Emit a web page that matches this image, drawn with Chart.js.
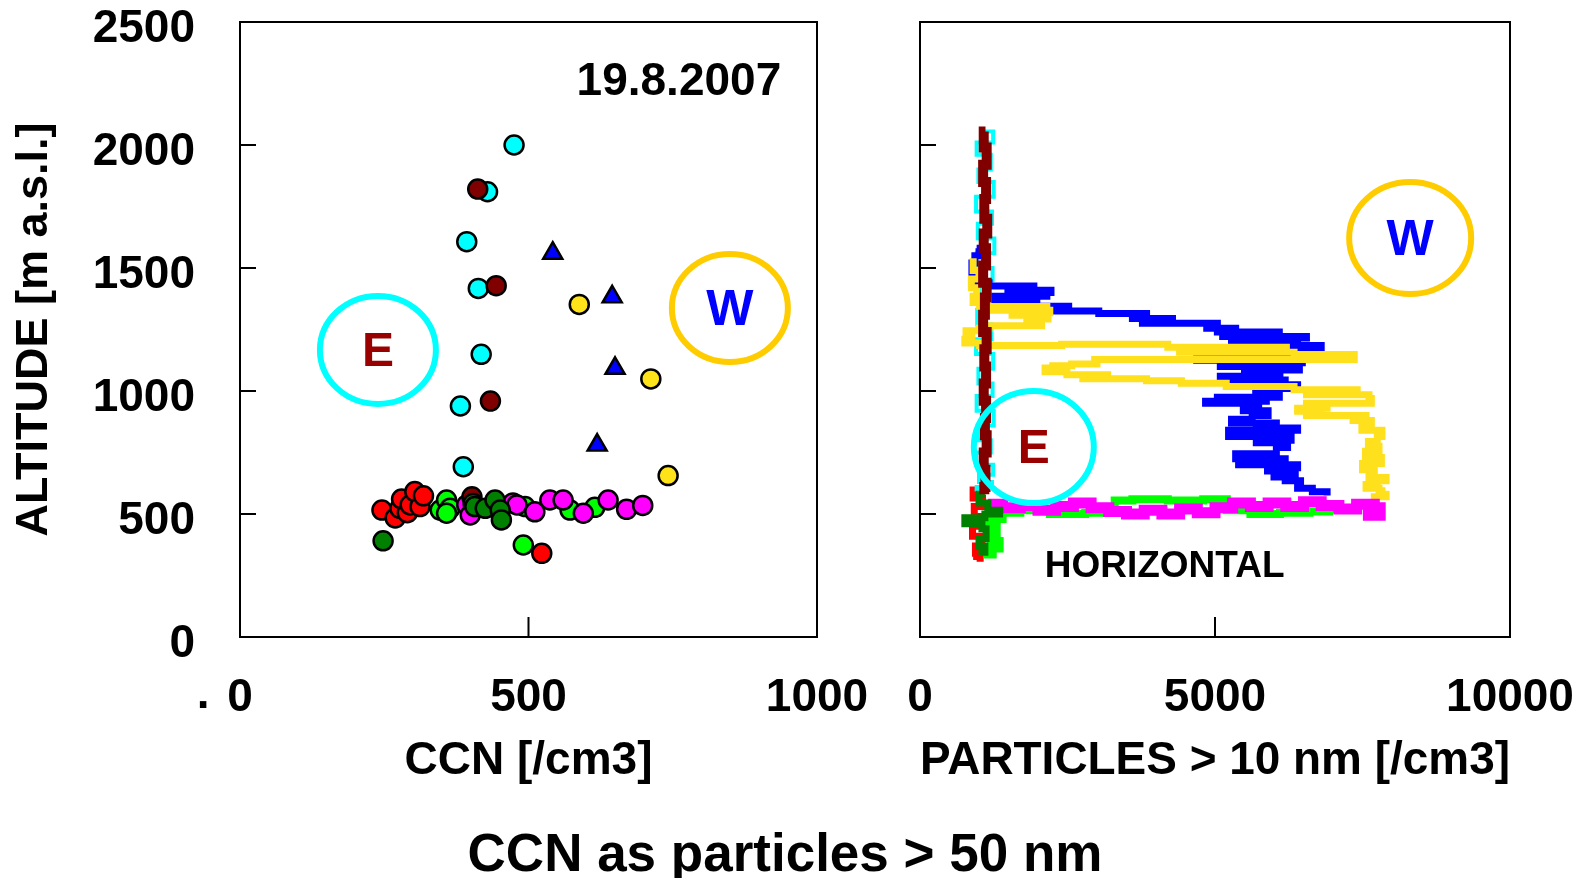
<!DOCTYPE html>
<html>
<head>
<meta charset="utf-8">
<script src="https://cdn.jsdelivr.net/npm/chart.js@4.4.1/dist/chart.umd.min.js"></script>
<style>
  body { margin: 0; background: #fff; }
  #wrap { position: relative; width: 1581px; height: 878px; }
  #wrap canvas { position: absolute; left: 0; top: 0; }
  #caption {
    position: absolute; left: 0; top: 822px; width: 1570px; line-height: 70px;
    text-align: center; font: bold 53px "Liberation Sans", Arial, sans-serif; color: #000;
  }
</style>
</head>
<body>
<div id="wrap">
  <canvas id="ccnChart" width="1581" height="878"></canvas>
  <canvas id="profileChart" width="1581" height="878"></canvas>
  <div id="caption">CCN as particles &gt; 50 nm</div>
</div>
<script>
// ---------------- Axis ticks ----------------
const altTicks = [0, 500, 1000, 1500, 2000, 2500];
const ccnTicks = [0, 500, 1000];
const partTicks = [0, 5000, 10000];

// ---------------- Left panel: CCN samples ----------------
const cyanCcn = [475, 429, 393, 413, 418, 382, 387];
const cyanAlt = [2000, 1810, 1607, 1417, 1149, 939, 692];
const darkRedCcn = [412, 444, 434, 402];
const darkRedAlt = [1821, 1428, 959, 570];
const blueCcn = [542, 645, 650, 619];
const blueAlt = [1560, 1383, 1092, 780];
const yellowCcn = [588, 712, 742];
const yellowAlt = [1352, 1049, 656];
const redCcn = [246, 269, 277, 280, 290, 295, 303, 312, 318, 523];
const redAlt = [516, 484, 523, 561, 505, 537, 591, 530, 574, 340];
const limeCcn = [347, 358, 364, 358, 494, 491, 572, 615];
const limeAlt = [516, 557, 523, 503, 530, 374, 516, 527];
const darkGreenCcn = [248, 404, 407, 425, 442, 451, 453];
const darkGreenAlt = [391, 543, 530, 523, 557, 516, 476];
const magentaCcn = [393, 399, 473, 480, 511, 537, 560, 595, 638, 670, 698];
const magentaAlt = [537, 496, 545, 537, 509, 557, 557, 503, 557, 519, 535];

// ---------------- Right panel: particle profiles ----------------
const pDarkRedN = [1110, 1080, 1130, 1070, 1120, 1090, 1140, 1080, 1120, 1070, 1130, 1100, 1070, 1130, 1090, 1120, 1080, 1120, 1100, 1130, 1080, 1110, 1090];
const pDarkRedAlt = [2055, 1990, 1920, 1850, 1780, 1700, 1640, 1580, 1510, 1440, 1380, 1310, 1240, 1170, 1100, 1030, 960, 890, 820, 750, 680, 610, 580];
const pCyanN = [1000, 1240, 960, 1200, 990, 1250, 950, 1220, 980, 1260, 960, 1230, 1000, 1250, 970, 1210, 950, 1240, 990, 1230, 960, 1250, 980, 1200, 950, 1240, 1000, 1220, 960, 1100];
const pCyanAlt = [2055, 2010, 1960, 1900, 1850, 1790, 1730, 1680, 1620, 1560, 1500, 1450, 1390, 1330, 1270, 1210, 1150, 1090, 1030, 980, 920, 860, 800, 750, 700, 660, 630, 610, 600, 590];
const pBlueN = [960, 1000, 930, 880, 950, 1170, 1930, 1490, 2220, 2150, 1270, 1980, 1570, 2520, 2200, 3030, 3840, 3600, 4280, 3770,
  5040, 4860, 5350, 5040, 6090, 5130, 6550, 5280, 6400, 6190, 6800, 6300, 6500, 4690, 6480, 5090, 6430, 5500, 6100, 5090,
  6190, 5530, 6400, 5690, 6090, 5040, 5870, 4840, 5740, 5480, 5900, 5630, 5280, 6040, 5700, 6400, 5230, 6290, 5700, 6230,
  6040, 5350, 6190, 5400, 6400, 5890, 6360, 6000, 6190, 6450, 6400, 6650, 6900];
const pBlueAlt = [1580, 1550, 1520, 1480, 1440, 1427, 1420, 1410, 1400, 1385, 1370, 1355, 1345, 1335, 1325, 1315, 1305, 1295, 1285, 1275,
  1262, 1255, 1248, 1240, 1230, 1222, 1215, 1205, 1197, 1185, 1170, 1155, 1140, 1125, 1115, 1100, 1085, 1075, 1060, 1045,
  1035, 1025, 1010, 990, 975, 965, 958, 950, 935, 920, 900, 885, 870, 860, 850, 840, 815, 800, 790, 770,
  745, 725, 712, 700, 688, 675, 660, 650, 635, 620, 605, 590, 575];
const pYellowN = [960, 900, 1000, 870, 960, 900, 1010, 2150, 1170, 2200, 1560, 2170, 1810, 2060, 1170, 1000, 780, 880, 760, 1010,
  2400, 4200, 6210, 4400, 6340, 7360, 2960, 3000, 2570, 2250, 2120, 2490, 3180, 2760, 3840, 4430, 5190, 6340, 7410, 6550,
  7610, 7650, 6550, 6900, 6400, 6800, 6550, 7560, 7340, 7650, 7490, 7830, 7750, 7600, 7780, 7550, 7820, 7500, 7700, 7610,
  7900, 7750, 7560, 7780, 7830, 7900, 7700];
const pYellowAlt = [1525, 1490, 1455, 1420, 1385, 1360, 1343, 1336, 1328, 1318, 1308, 1293, 1280, 1265, 1255, 1245, 1230, 1210, 1195, 1185,
  1190, 1178, 1168, 1158, 1148, 1128, 1118, 1110, 1103, 1093, 1078, 1066, 1058, 1050, 1042, 1032, 1018, 1005, 995, 985,
  970, 950, 938, 930, 918, 910, 900, 895, 880, 860, 840, 815, 795, 775, 755, 730, 705, 680, 665, 648,
  635, 620, 605, 595, 580, 570, 560];
const pMagentaN = [1150, 1400, 1700, 2000, 2300, 2600, 2900, 3200, 3500, 3800, 4100, 4400, 4700, 5000, 5300, 5600, 5900, 6200, 6500, 6800, 7100, 7400, 7700, 7800, 7600, 7800];
const pMagentaAlt = [540, 525, 535, 515, 530, 545, 525, 510, 500, 515, 500, 520, 505, 525, 545, 530, 545, 530, 550, 535, 520, 540, 525, 505, 495, 510];
const pLimeN = [1300, 1150, 1350, 1200, 1300, 1150, 1400, 1700, 2200, 2800, 3300, 3600, 4200, 4800, 5200, 5600, 6100, 6600, 7000];
const pLimeAlt = [335, 360, 390, 420, 450, 480, 505, 515, 500, 505, 555, 560, 555, 560, 515, 500, 505, 510, 505];
const pRedN = [1000, 900, 1060, 920, 1010, 890, 1050, 940, 1020, 960];
const pRedAlt = [598, 565, 530, 490, 450, 410, 370, 340, 320, 313];
const pDarkGreenN = [1100, 1000, 1150, 1350, 1100, 760, 1050, 1120, 1000, 1100, 1050];
const pDarkGreenAlt = [580, 545, 515, 500, 485, 460, 440, 400, 370, 345, 333];

const FONT = '"Liberation Sans", Arial, sans-serif';
Chart.defaults.font.family = FONT;
Chart.defaults.color = '#000';

const pts = (xs, ys) => xs.map((x, i) => ({ x, y: ys[i] }));

// ---------------- Frame, inner ticks, rings and notes ----------------
function makeDecor(rings, notes) {
  return {
    id: 'decor',
    afterDatasetsDraw(chart) {
      const { ctx, scales: { x, y } } = chart;
      ctx.save();
      rings.forEach(r => {
        const cx = x.getPixelForValue(r.x), cy = y.getPixelForValue(r.y);
        ctx.beginPath();
        ctx.ellipse(cx, cy, r.rx, r.ry, 0, 0, Math.PI * 2);
        ctx.lineWidth = 6;
        ctx.strokeStyle = r.ring;
        ctx.stroke();
        ctx.font = 'bold ' + r.size + 'px ' + FONT;
        ctx.fillStyle = r.color;
        ctx.textAlign = 'center';
        ctx.textBaseline = 'middle';
        ctx.fillText(r.label, cx, cy + 3);
      });
      ctx.restore();
    },
    afterDraw(chart) {
      const { ctx, chartArea: a, scales: { x, y } } = chart;
      ctx.save();
      ctx.strokeStyle = '#000';
      ctx.lineWidth = 2;
      ctx.strokeRect(a.left, a.top, a.right - a.left, a.bottom - a.top);
      ctx.beginPath();
      y.ticks.forEach(t => {
        if (t.value <= y.min || t.value >= y.max) return;
        const py = y.getPixelForValue(t.value);
        ctx.moveTo(a.left, py);
        ctx.lineTo(a.left + 16, py);
      });
      x.ticks.forEach(t => {
        if (t.value <= x.min || t.value >= x.max) return;
        const px = x.getPixelForValue(t.value);
        ctx.moveTo(px, a.bottom);
        ctx.lineTo(px, a.bottom - 20);
      });
      ctx.stroke();
      notes.forEach(n => {
        ctx.font = 'bold ' + n.size + 'px ' + FONT;
        ctx.fillStyle = '#000';
        ctx.textAlign = n.align;
        ctx.textBaseline = n.baseline || 'middle';
        ctx.fillText(n.text, x.getPixelForValue(n.x), y.getPixelForValue(n.y));
      });
      ctx.restore();
    }
  };
}

function fixX(height) {
  return s => { s.height = height; s.paddingLeft = 0; s.paddingRight = 0; };
}
function fixY(width) {
  return s => { s.width = width; s.paddingTop = 0; s.paddingBottom = 0; };
}

const tickFont = { size: 46, weight: 'bold' };
const plain = v => String(v);

// ---------------- Left chart ----------------
const dots = (label, xs, ys, color, style, r) => ({
  label, data: pts(xs, ys), backgroundColor: color, borderColor: '#000', borderWidth: 2.5,
  pointStyle: style || 'circle', pointRadius: r || 9.5, pointHoverRadius: r || 9.5
});

new Chart(document.getElementById('ccnChart'), {
  type: 'scatter',
  data: {
    datasets: [
      dots('dark green', darkGreenCcn, darkGreenAlt, '#007F00'),
      dots('dark red', darkRedCcn, darkRedAlt, '#800000'),
      dots('magenta', magentaCcn, magentaAlt, '#FF00FF'),
      dots('green', limeCcn, limeAlt, '#00FF00'),
      dots('red', redCcn, redAlt, '#FF0000'),
      dots('cyan', cyanCcn, cyanAlt, '#00FFFF'),
      dots('yellow', yellowCcn, yellowAlt, '#FFE31A'),
      dots('blue', blueCcn, blueAlt, '#0000FF', 'triangle', 11)
    ]
  },
  options: {
    responsive: false, animation: false, events: [],
    layout: { padding: { top: 22, right: 764, left: 0, bottom: 0 } },
    plugins: { legend: { display: false }, tooltip: { enabled: false } },
    scales: {
      x: {
        type: 'linear', min: 0, max: 1000,
        afterBuildTicks: s => { s.ticks = ccnTicks.map(v => ({ value: v })); },
        afterFit: fixX(241),
        grid: { display: false }, border: { display: false },
        ticks: { font: tickFont, padding: 26, maxRotation: 0, autoSkip: false, callback: plain },
        title: { display: true, text: 'CCN [/cm3]', font: { size: 46, weight: 'bold' }, padding: { top: 0, bottom: 89 } }
      },
      y: {
        type: 'linear', min: 0, max: 2500,
        afterBuildTicks: s => { s.ticks = altTicks.map(v => ({ value: v })); },
        afterFit: fixY(240),
        grid: { display: false }, border: { display: false },
        ticks: { font: tickFont, padding: 37, labelOffset: 7, autoSkip: false, callback: plain },
        title: { display: true, text: 'ALTITUDE [m a.s.l.]', font: { size: 45, weight: 'bold' }, padding: { top: 8, bottom: 0 } }
      }
    }
  },
  plugins: [makeDecor(
    [
      { label: 'E', x: 239, y: 1167, rx: 58, ry: 54, ring: '#00FFFF', color: '#990000', size: 48 },
      { label: 'W', x: 849, y: 1337, rx: 58, ry: 54, ring: '#FFCC00', color: '#0000FF', size: 50 }
    ],
    [
      { text: '19.8.2007', x: 938, y: 2255, size: 46, align: 'right' },
      { text: '.', x: -64, y: -290, size: 46, align: 'center', baseline: 'alphabetic' }
    ]
  )]
});

// ---------------- Right chart ----------------
const trace = (label, xs, ys, color, width) => ({
  label, data: pts(xs, ys), showLine: true, stepped: true, borderColor: color, backgroundColor: color,
  borderWidth: width || 7, pointRadius: 0, pointHoverRadius: 0, fill: false
});

new Chart(document.getElementById('profileChart'), {
  type: 'scatter',
  data: {
    datasets: [
      trace('dark red', pDarkRedN, pDarkRedAlt, '#800000', 10),
      trace('dark green', pDarkGreenN, pDarkGreenAlt, '#007F00', 7),
      trace('magenta', pMagentaN, pMagentaAlt, '#FF00FF', 11),
      trace('yellow', pYellowN, pYellowAlt, '#FFE01C', 7),
      trace('blue', pBlueN, pBlueAlt, '#0000FF', 7),
      trace('cyan', pCyanN, pCyanAlt, '#00FFFF', 4),
      trace('green', pLimeN, pLimeAlt, '#00FF00', 8),
      trace('red', pRedN, pRedAlt, '#FF0000', 7)
    ]
  },
  options: {
    responsive: false, animation: false, events: [],
    layout: { padding: { top: 22, right: 71, left: 0, bottom: 0 } },
    plugins: { legend: { display: false }, tooltip: { enabled: false } },
    scales: {
      x: {
        type: 'linear', min: 0, max: 10000,
        afterBuildTicks: s => { s.ticks = partTicks.map(v => ({ value: v })); },
        afterFit: fixX(241),
        grid: { display: false }, border: { display: false },
        ticks: { font: tickFont, padding: 26, maxRotation: 0, autoSkip: false, callback: plain },
        title: { display: true, text: 'PARTICLES > 10 nm [/cm3]', font: { size: 46, weight: 'bold' }, padding: { top: 0, bottom: 89 } }
      },
      y: {
        type: 'linear', min: 0, max: 2500,
        afterBuildTicks: s => { s.ticks = altTicks.map(v => ({ value: v })); },
        afterFit: fixY(920),
        grid: { display: false }, border: { display: false },
        ticks: { display: false },
        title: { display: false }
      }
    }
  },
  plugins: [makeDecor(
    [
      { label: 'E', x: 1929, y: 772, rx: 60, ry: 56, ring: '#00FFFF', color: '#990000', size: 48 },
      { label: 'W', x: 8308, y: 1622, rx: 61, ry: 56, ring: '#FFCC00', color: '#0000FF', size: 50 }
    ],
    [
      { text: 'HORIZONTAL', x: 4146, y: 285, size: 37, align: 'center' }
    ]
  )]
});
</script>
</body>
</html>
